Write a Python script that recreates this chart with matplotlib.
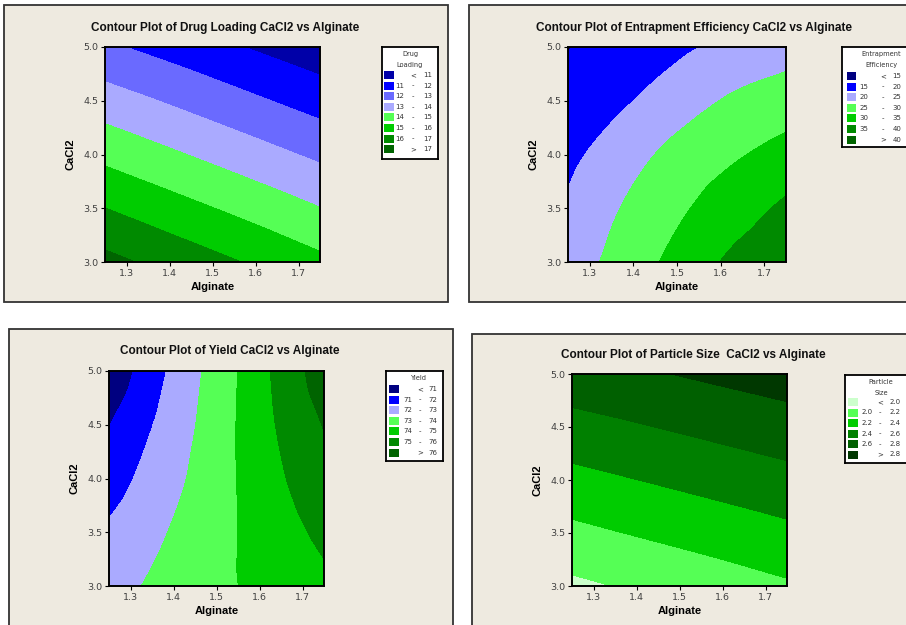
import numpy as np
import matplotlib.pyplot as plt
import matplotlib.tri as mtri
from matplotlib.patches import Rectangle

W, H = 906, 625

# grid points of the response surfaces (Alginate on x, CaCl2 on y)
alg3 = [1.25, 1.5, 1.75]
cacl3 = [3.0, 4.0, 5.0]
alg5 = [1.25, 1.375, 1.5, 1.625, 1.75]
cacl5 = [3.0, 3.5, 4.0, 4.5, 5.0]

# values, rows = CaCl2, cols = Alginate
drug_loading = [[17.29, 16.27, 15.24],
                [14.73, 13.77, 12.80],
                [12.17, 11.27, 10.36]]
drug_levels = [11, 12, 13, 14, 15, 16, 17]

entrapment = [[22.4, 26.9, 31.4, 35.9, 39.0],
              [20.6, 25.2, 29.1, 32.6, 35.9],
              [18.8, 22.7, 26.5, 29.3, 31.7],
              [16.8, 19.4, 22.6, 25.6, 27.4],
              [14.8, 16.9, 19.0, 21.2, 23.0]]
entrap_levels = [15, 20, 25, 30, 35, 40]

yield_ = [[72.60, 73.24, 73.77, 74.29, 74.80],
          [72.15, 72.93, 73.68, 74.49, 75.22],
          [71.55, 72.55, 73.59, 74.71, 75.64],
          [70.97, 72.23, 73.50, 74.88, 76.05],
          [70.30, 71.90, 73.40, 75.00, 76.50]]
yield_levels = [71, 72, 73, 74, 75, 76]

particle = [[1.96, 2.067, 2.174],
            [2.34, 2.437, 2.534],
            [2.72, 2.807, 2.894]]
particle_levels = [2.0, 2.2, 2.4, 2.6, 2.8]

drug_colors = ['#0000a8', '#0000ff', '#6a6aff', '#aaaaff',
               '#55ff55', '#00cc00', '#008a00', '#006400']
blue_green = ['#000080', '#0000ff', '#aaaaff', '#55ff55',
              '#00cc00', '#008a00', '#006400']
particle_colors = ['#ccffcc', '#55ff55', '#00cc00',
                   '#008000', '#006000', '#003800']

bg = '#eeeae0'
plt.rcParams['font.family'] = ['DejaVu Sans']
fig = plt.figure(figsize=(W / 100, H / 100), dpi=100)


def frac(x0, y0, x1, y1):
    return [x0 / W, 1 - y1 / H, (x1 - x0) / W, (y1 - y0) / H]


def panel(box, axbox, legbox, title, title_xy, x, y, z, levels, colors,
          leg_title, fmt, leg):
    l, b, w, h = frac(*box)
    fig.add_artist(Rectangle((l, b), w, h, transform=fig.transFigure,
                             fc=bg, ec='#333333', lw=1.3, zorder=-1))
    fig.text(title_xy[0] / W, 1 - title_xy[1] / H, title,
             family='Liberation Sans', weight='bold', size=8.5,
             ha='center', va='center', color='#111111')

    ax = fig.add_axes(frac(*axbox))
    lv = [-1e6] + levels + [1e6]
    # smooth the coarse grid with matplotlib's triangulation refiner
    X, Y = np.meshgrid(x, y)
    tri = mtri.Triangulation(X.ravel(), Y.ravel())
    interp = mtri.CubicTriInterpolator(tri, np.asarray(z).ravel(), kind='geom')
    refiner = mtri.UniformTriRefiner(tri)
    tri_f, z_f = refiner.refine_field(np.asarray(z).ravel(), triinterpolator=interp,
                                      subdiv=4)
    ax.tricontourf(tri_f, z_f, levels=lv, colors=colors)
    ax.set_xlim(1.25, 1.75)
    ax.set_ylim(3.0, 5.0)
    ax.set_xticks([1.3, 1.4, 1.5, 1.6, 1.7])
    ax.set_yticks([3.0, 3.5, 4.0, 4.5, 5.0])
    ax.set_yticklabels(['3.0', '3.5', '4.0', '4.5', '5.0'])
    ax.tick_params(length=3, width=0.8, labelsize=6.8, labelcolor='#404040',
                   pad=2)
    for s in ax.spines.values():
        s.set_linewidth(1.4)
    ax.set_xlabel('Alginate', family='Liberation Sans', weight='bold',
                  size=8, labelpad=3)
    ax.set_ylabel('CaCl2', family='Liberation Sans', weight='bold',
                  size=8, labelpad=5)

    # legend box drawn in pixel units
    lx0, ly0, lx1, ly1 = legbox
    la = fig.add_axes(frac(*legbox))
    la.set_xlim(0, lx1 - lx0)
    la.set_ylim(ly1 - ly0, 0)
    la.set_xticks([])
    la.set_yticks([])
    for s in la.spines.values():
        s.set_linewidth(1.3)
    for i, t in enumerate(leg_title):
        la.text(leg['tx'], leg['ty'][i], t, size=4.8, ha='center',
                va='center', color='#333333')
    labels = []
    labels.append(('', '<', fmt % levels[0]))
    for a, c in zip(levels[:-1], levels[1:]):
        labels.append((fmt % a, '-', fmt % c))
    labels.append(('', '>', fmt % levels[-1]))
    sx0, sx1 = leg['sw']
    for i, (col, lab) in enumerate(zip(colors, labels)):
        yc = leg['row0'] + i * leg['step']
        la.add_patch(Rectangle((sx0, yc - 4), sx1 - sx0, 8, fc=col, ec='none'))
        for t, xc in zip(lab, leg['cols']):
            la.text(xc, yc, t, size=5, ha='center', va='center',
                    color='#333333')


panel((4, 5, 448, 302), (105, 47, 320, 262), (382, 47, 438, 159),
      'Contour Plot of Drug Loading CaCl2 vs Alginate', (225, 28),
      alg3, cacl3, drug_loading, drug_levels, drug_colors,
      ['Drug', 'Loading'], '%d',
      dict(tx=28, ty=[7, 18], row0=28, step=10.6, sw=(2, 12),
           cols=(18, 31, 46)))

panel((469, 5, 915, 302), (568, 47, 786, 262), (842, 47, 915, 147),
      'Contour Plot of Entrapment Efficiency CaCl2 vs Alginate', (694, 28),
      alg5, cacl5, entrapment, entrap_levels, blue_green,
      ['Entrapment', 'Efficiency'], '%d',
      dict(tx=39, ty=[7, 18], row0=29, step=10.6, sw=(5, 14),
           cols=(22, 41, 55)))

panel((9, 329, 453, 635), (109, 371, 324, 586), (386, 371, 443, 461),
      'Contour Plot of Yield CaCl2 vs Alginate', (230, 351),
      alg5, cacl5, yield_, yield_levels, blue_green,
      ['Yield'], '%d',
      dict(tx=33, ty=[7], row0=18, step=10.6, sw=(3, 13),
           cols=(22, 34, 47)))

panel((472, 334, 915, 635), (572, 374, 787, 586), (845, 375, 915, 463),
      'Contour Plot of Particle Size  CaCl2 vs Alginate', (693, 355),
      alg3, cacl3, particle, particle_levels, particle_colors,
      ['Particle', 'Size'], '%.1f',
      dict(tx=36, ty=[7, 18], row0=27, step=10.5, sw=(3, 13),
           cols=(22, 35, 50)))

fig.savefig('out.png', dpi=100, facecolor='white')
